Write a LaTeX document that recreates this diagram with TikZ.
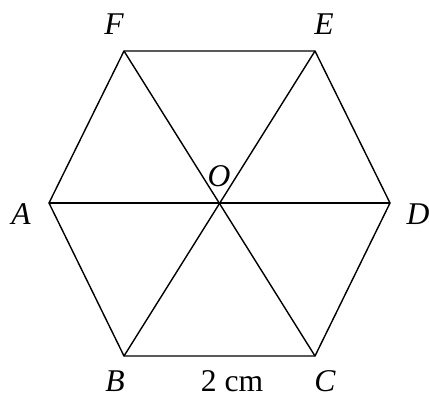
\documentclass[tikz,border=0pt]{standalone}
\usepackage{fontspec}
\setmainfont{Liberation Serif}
\begin{document}
\begin{tikzpicture}[x=0.02cm,y=-0.02cm,line width=0.8pt,
  lbl/.style={font=\fontsize{18}{21}\selectfont\itshape}]
  \useasboundingbox (0,0) rectangle (429,397);
  % vertices
  \coordinate (A) at (49,203);
  \coordinate (B) at (124,356);
  \coordinate (C) at (315,356);
  \coordinate (D) at (390,203);
  \coordinate (E) at (315,51);
  \coordinate (F) at (124,51);
  \coordinate (O) at (220,203);
  % hexagon and diagonals
  \draw (A) -- (B) -- (C) -- (D) -- (E) -- (F) -- cycle;
  \draw (A) -- (D);
  \draw (B) -- (E);
  \draw (C) -- (F);
  % labels
  \node[lbl] (lA) at (21,214) {A};
  \node[lbl] (lB) at (115,381) {B};
  \node[lbl] (lC) at (325,381) {C};
  \node[lbl] (lD) at (418,214) {D};
  \node[lbl] (lE) at (324,24) {E};
  \node[lbl] (lF) at (114,24) {F};
  \node[lbl] (lO) at (219,176) {O};
  \node[font=\fontsize{18}{21}\selectfont] (len) at (232,381) {2 cm};
\end{tikzpicture}
\end{document}
